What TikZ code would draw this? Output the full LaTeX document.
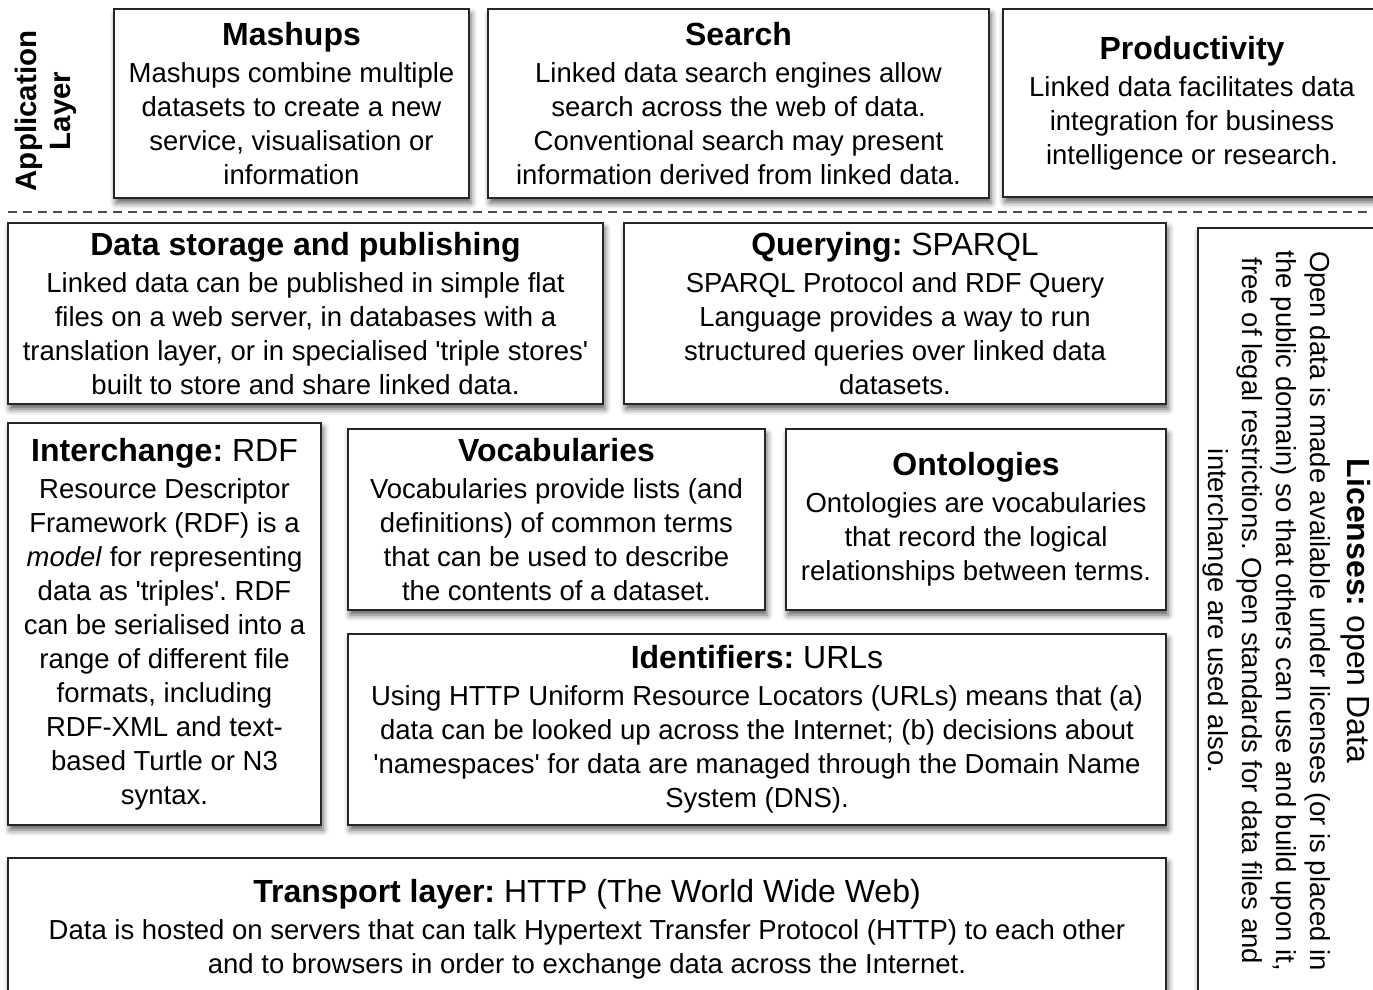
\documentclass[tikz,border=0pt]{standalone}
\usepackage{fontspec}
\setmainfont{Liberation Sans}
\usetikzlibrary{shadows.blur}
\frenchspacing

\newcommand{\ttl}{\fontsize{32}{34}\selectfont}

\begin{document}
\begin{tikzpicture}[x=1pt,y=-1pt,
    box/.style={draw=black!85, line width=1.5pt, fill=white, align=center, inner sep=2pt,
        font=\fontsize{27.5}{34}\selectfont,
        blur shadow={shadow xshift=2pt, shadow yshift=-5pt, shadow blur radius=6pt, shadow opacity=65}},
    layerline/.style={draw=black!70, line width=1.5pt, dash pattern=on 9pt off 6pt}]
    \useasboundingbox (0,0) rectangle (1373,990);
    \node [rotate=90, align=center, font=\fontsize{29.5}{34}\selectfont\bfseries] (app) at (46,111) {Application\\Layer};
    \node [box, minimum width=355, minimum height=189] (mashups) at (291.5,103.5)
        {{\ttl\textbf{Mashups}}\\[3pt] Mashups combine multiple\\ datasets to create a new\\ service, visualisation or\\ information};
    \node [box, minimum width=501, minimum height=189] (search) at (738.5,103.5)
        {{\ttl\textbf{Search}}\\[3pt] Linked data search engines allow\\ search across the web of data.\\ Conventional search may present\\ information derived from linked data.};
    \node [box, minimum width=378, minimum height=188] (prod) at (1192,103)
        {{\ttl\textbf{Productivity}}\\[3pt] Linked data facilitates data\\ integration for business\\ intelligence or research.};
    \coordinate (dl) at (8,212);
    \coordinate (dr) at (1373,212);
    \draw [layerline] (dl) -- (dr);
    \node [box, minimum width=595, minimum height=181] (storage) at (305.5,313.5)
        {{\ttl\textbf{Data storage and publishing}}\\[3pt] Linked data can be published in simple flat\\ files on a web server, in databases with a\\ translation layer, or in specialised \textquotesingle triple stores\textquotesingle\\ built to store and share linked data.};
    \node [box, minimum width=542, minimum height=181] (query) at (895,313.5)
        {{\ttl\textbf{Querying:} SPARQL}\\[3pt] SPARQL Protocol and RDF Query\\ Language provides a way to run\\ structured queries over linked data\\ datasets.};
    \node [box, minimum width=178, minimum height=772] (lic) at (1287,614) {};
    \node [rotate=-90, align=center, font=\fontsize{27.5}{34}\selectfont] (lictext) at (1287,611)
        {{\ttl\textbf{Licenses:} open Data}\\[3pt] Open data is made available under licenses (or is placed in\\ the public domain) so that others can use and build upon it,\\ free of legal restrictions. Open standards for data files and\\ interchange are used also.};
    \node [box, minimum width=313, minimum height=402] (rdf) at (164.5,624)
        {{\ttl\textbf{Interchange:} RDF}\\[3pt] Resource Descriptor\\ Framework (RDF) is a\\ \textit{model} for representing\\ data as \textquotesingle triples\textquotesingle. RDF\\ can be serialised into a\\ range of different file\\ formats, including\\ RDF-XML and text-\\ based Turtle or N3\\ syntax.};
    \node [box, minimum width=417, minimum height=181] (vocab) at (556.5,519.5)
        {{\ttl\textbf{Vocabularies}}\\[3pt] Vocabularies provide lists (and\\ definitions) of common terms\\ that can be used to describe\\ the contents of a dataset.};
    \node [box, minimum width=380, minimum height=181] (onto) at (976,519.5)
        {{\ttl\textbf{Ontologies}}\\[3pt] Ontologies are vocabularies\\ that record the logical\\ relationships between terms.};
    \node [box, minimum width=818, minimum height=191] (ident) at (757,729.5)
        {{\ttl\textbf{Identifiers:} URLs}\\[3pt] Using HTTP Uniform Resource Locators (URLs) means that (a)\\ data can be looked up across the Internet; (b) decisions about\\ \textquotesingle namespaces\textquotesingle\ for data are managed through the Domain Name\\ System (DNS).};
    \node [box, minimum width=1158, minimum height=142] (http) at (587,929)
        {{\ttl\textbf{Transport layer:} HTTP (The World Wide Web)}\\[3pt] Data is hosted on servers that can talk Hypertext Transfer Protocol (HTTP) to each other\\ and to browsers in order to exchange data across the Internet.};
\end{tikzpicture}
\end{document}
